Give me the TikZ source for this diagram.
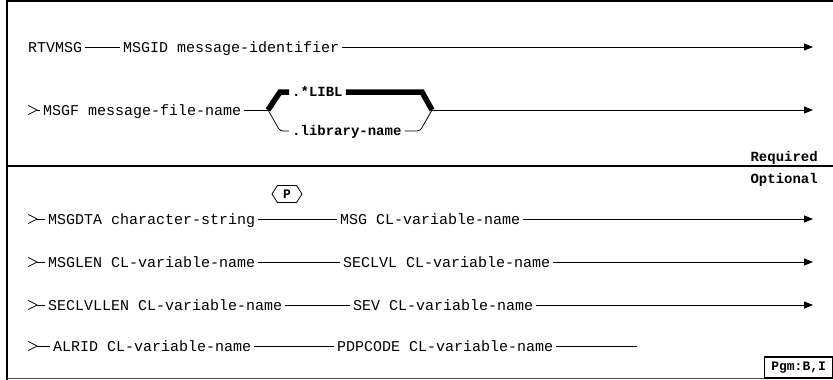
\documentclass[tikz,border=0pt]{standalone}
\usepackage{fontspec}
\setmonofont{Liberation Mono}
\usetikzlibrary{arrows.meta, positioning, shapes.symbols}

\begin{document}
\begin{tikzpicture}[
    x=1pt, y=-1pt,
    kw/.style={anchor=west, inner xsep=3pt, inner ysep=0pt, text height=10pt, text depth=0pt, font=\ttfamily\fontsize{15}{15}\selectfont},
    startmark/.style={anchor=west, minimum width=9pt, minimum height=9pt, inner sep=0pt,
        path picture={\draw[rail] (path picture bounding box.north west) -- (path picture bounding box.east) -- (path picture bounding box.south west);}},
    opt/.style={anchor=west, inner xsep=3pt, inner ysep=0pt, text height=9.5pt, text depth=0pt, font=\ttfamily\bfseries\fontsize{14}{14}\selectfont},
    rail/.style={line width=0.8pt},
    heavy/.style={line width=5.5pt, line join=miter},
    endarrow/.style={rail, -{Triangle[length=9pt, width=7pt]}},
    frame/.style={line width=1.6pt}
]
\useasboundingbox (0,0) rectangle (833,380);

% frame
\draw[frame] (7,380) -- (7,1) -- (833,1);
\draw[frame] (7,166) -- (833,166);
\draw[line width=1pt, black!70] (7,378.5) -- (833,378.5);

\node[opt, anchor=east] (req) at (821,157) {Required};
\node[opt, anchor=east] (optl) at (821,179) {Optional};

% required part
\node[kw] (rtv) at (25,47) {RTVMSG};
\node[kw] (msgid) at (120,47) {MSGID message-identifier};
\coordinate (end1) at (813,47);
\draw[rail] (rtv) -- (msgid);
\draw[endarrow] (msgid) -- (end1);

\node[startmark] (s2) at (28,110) {};
\node[kw] (msgf) at (40,110) {MSGF message-file-name};
\coordinate (fork) at (268,110);
\node[opt] (libl) at (289,92) {.*LIBL};
\node[opt] (libname) at (289,131) {.library-name};
\coordinate (join) at (432,110);
\coordinate (end2) at (813,110);
\draw[rail] (s2.east) -- (msgf);
\draw[rail] (msgf) -- (fork);
\draw[heavy] (fork) -- ([xshift=12pt]fork |- libl.west) -- (libl.west);
\draw[heavy] (libl.east) -- ([xshift=-10pt]join |- libl.east) -- (join);
\draw[rail, rounded corners=3pt] (fork) -- ([xshift=12pt]fork |- libname.west) -- (libname.west);
\draw[rail, rounded corners=3pt] (libname.east) -- ([xshift=-12pt]join |- libname.east) -- (join);
\draw[endarrow] (join) -- (end2);

% optional part
\node[draw, rail, signal, signal to=east and west, signal pointer angle=115, minimum width=30pt, minimum height=17pt, inner sep=0pt, font=\ttfamily\bfseries\fontsize{13}{13}\selectfont] (pgm) at (287,194) {P};

\node[startmark] (s3) at (28,219) {};
\node[kw] (msgdta) at (45,219) {MSGDTA character-string};
\node[kw] (msg) at (337,219) {MSG CL-variable-name};
\coordinate (end3) at (813,219);
\draw[rail] (s3.east) -- (msgdta);
\draw[rail] (msgdta) -- (msg);
\draw[endarrow] (msg) -- (end3);

\node[startmark] (s4) at (28,262) {};
\node[kw] (msglen) at (45,262) {MSGLEN CL-variable-name};
\node[kw] (seclvl) at (340,262) {SECLVL CL-variable-name};
\coordinate (end4) at (813,262);
\draw[rail] (s4.east) -- (msglen);
\draw[rail] (msglen) -- (seclvl);
\draw[endarrow] (seclvl) -- (end4);

\node[startmark] (s5) at (28,305) {};
\node[kw] (seclvllen) at (45,305) {SECLVLLEN CL-variable-name};
\node[kw] (sev) at (350,305) {SEV CL-variable-name};
\coordinate (end5) at (813,305);
\draw[rail] (s5.east) -- (seclvllen);
\draw[rail] (seclvllen) -- (sev);
\draw[endarrow] (sev) -- (end5);

\node[startmark] (s6) at (28,346) {};
\node[kw] (alrid) at (50,346) {ALRID CL-variable-name};
\node[kw] (pdpcode) at (334,346) {PDPCODE CL-variable-name};
\coordinate (end6) at (637,346);
\draw[rail] (s6.east) -- (alrid);
\draw[rail] (alrid) -- (pdpcode);
\draw[rail] (pdpcode) -- (end6);

\node[draw, line width=1.2pt, anchor=south west, minimum width=68pt, minimum height=21pt, inner sep=0pt, font=\ttfamily\bfseries\fontsize{13}{13}\selectfont] (pgmbox) at (764,378.5) {Pgm:B,I};

\end{tikzpicture}
\end{document}
